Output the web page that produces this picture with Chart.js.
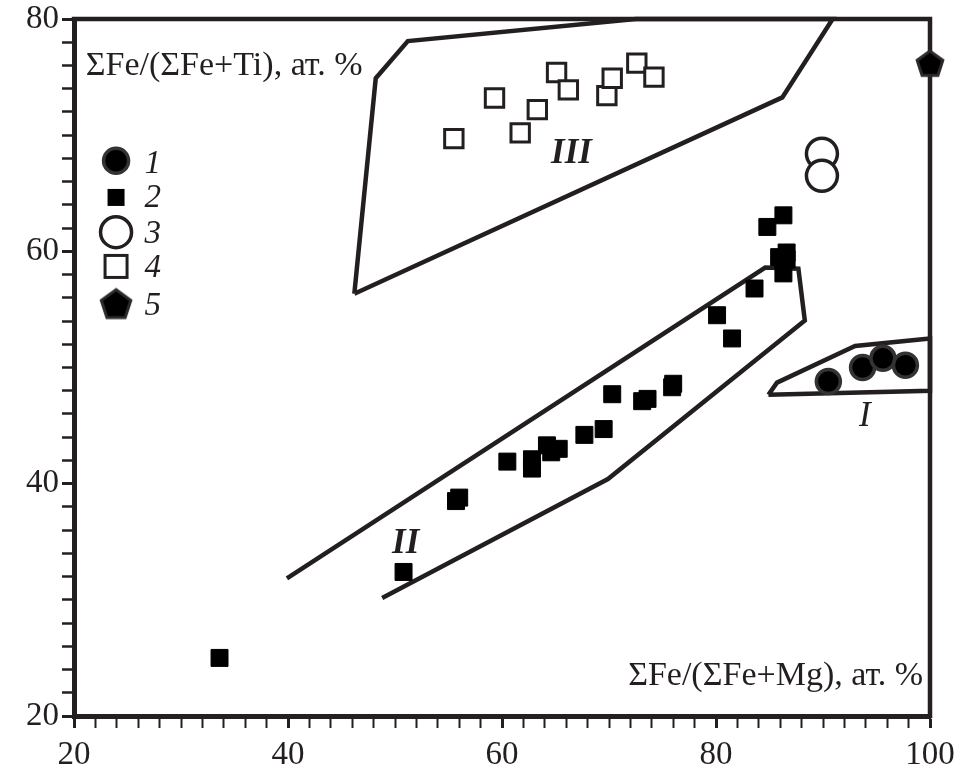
<!DOCTYPE html>
<html>
<head>
<meta charset="utf-8">
<script src="https://cdn.jsdelivr.net/npm/chart.js@4.4.1/dist/chart.umd.min.js"></script>
<style>
html,body{margin:0;padding:0;background:#fff;}
#wrap{width:967px;height:771px;position:relative;}
</style>
</head>
<body>
<div id="wrap"><canvas id="c" width="967" height="771"></canvas></div>
<script>
// ---------- data ----------
const xMajorTicks = [20, 40, 60, 80, 100];
const yMajorTicks = [20, 40, 60, 80];
const xTitle = 'ΣFe/(ΣFe+Mg), ат. %';
const yTitle = 'ΣFe/(ΣFe+Ti), ат. %';
const legendLabels = ['1', '2', '3', '4', '5'];
const regionNames = ['I', 'II', 'III'];

// series 1: filled circles
const s1X = [90.5, 93.7, 95.6, 97.7];
const s1Y = [48.8, 50.0, 50.8, 50.2];
// series 2: filled squares
const s2X = [33.6, 50.8, 55.7, 56.0, 60.5, 62.8, 62.8, 64.2, 64.6, 65.3, 67.7, 69.5, 70.3, 73.1, 73.6, 76.0, 75.9, 80.1, 81.5, 83.6, 86.3, 84.8, 86.3, 86.6, 86.6, 85.9];
const s2Y = [25.0, 32.4, 38.5, 38.8, 41.9, 42.1, 41.3, 43.3, 42.7, 43.0, 44.2, 44.7, 47.7, 47.1, 47.3, 48.6, 48.3, 54.5, 52.5, 56.8, 58.1, 62.1, 63.1, 59.9, 59.3, 59.5];
// series 3: open circles
const s3X = [89.9, 89.9];
const s3Y = [68.4, 66.5];
// series 4: open squares
const s4X = [55.5, 59.3, 61.7, 63.3, 65.1, 66.2, 69.8, 70.3, 72.6, 74.2];
const s4Y = [69.7, 73.2, 70.2, 72.2, 75.4, 73.9, 73.4, 74.9, 76.2, 75.0];
// series 5: pentagon
const s5X = [100];
const s5Y = [76.2];

// field outlines
const regIX = [84.9, 85.7, 93.0, 100, 100, 84.9];
const regIY = [47.65, 48.7, 51.85, 52.5, 48.0, 47.65];
const regIIX = [39.9, 84.6, 87.7, 88.3, 69.9, 48.8];
const regIIY = [31.85, 58.6, 58.5, 54.05, 40.4, 30.15];
const regIIIX = [46.2, 48.2, 51.2, 72.5, 90.9, 86.2, 46.2];
const regIIIY = [56.35, 74.9, 78.1, 80, 80, 73.25, 56.35];

// ---------- helpers ----------
const INK = '#231f20';
const FONT = '"Liberation Serif", "Times New Roman", serif';
const pts = (xs, ys) => xs.map((x, i) => ({x: x, y: ys[i]}));

function makePentagon(R, lw) {
  const size = Math.ceil(2 * R + lw + 4);
  const c = document.createElement('canvas');
  c.width = size; c.height = size;
  const g = c.getContext('2d');
  g.translate(size / 2, size / 2 + R * 0.1);
  g.beginPath();
  for (let i = 0; i < 5; i++) {
    const a = -Math.PI / 2 + i * 2 * Math.PI / 5;
    g.lineTo(R * Math.cos(a), R * Math.sin(a));
  }
  g.closePath();
  g.fillStyle = '#000';
  g.fill();
  g.lineWidth = lw;
  g.lineJoin = 'miter';
  g.strokeStyle = '#2e2a2b';
  g.stroke();
  return c;
}
const pentSmall = makePentagon(13.5, 3);
const pentLegend = makePentagon(15.5, 3);

const regionStyle = {
  showLine: true, pointRadius: 0, pointHoverRadius: 0, borderColor: INK, borderWidth: 4.5,
  backgroundColor: 'transparent', fill: false, tension: 0, borderJoinStyle: 'miter', clip: false, order: 10
};

// ---------- decorations plugin ----------
const deco = {
  id: 'deco',
  beforeDatasetsDraw(chart) {
    const {ctx, chartArea: a} = chart;
    ctx.save();
    ctx.strokeStyle = INK;
    ctx.lineWidth = 4.5;
    ctx.lineCap = 'square';
    ctx.beginPath();
    ctx.moveTo(a.left, a.top);
    ctx.lineTo(a.right, a.top);
    ctx.lineTo(a.right, a.bottom);
    ctx.stroke();
    ctx.restore();
  },
  afterDraw(chart) {
    const {ctx} = chart;
    const X = v => chart.scales.x.getPixelForValue(v);
    const Y = v => chart.scales.y.getPixelForValue(v);
    ctx.save();
    ctx.fillStyle = INK;
    ctx.textBaseline = 'alphabetic';
    // axis titles
    ctx.font = '34px ' + FONT;
    ctx.textAlign = 'left';
    ctx.fillText(yTitle, X(21.1), Y(75.15));
    ctx.textAlign = 'right';
    ctx.fillText(xTitle, X(99.35), Y(22.65));
    // region names
    ctx.textAlign = 'center';
    ctx.font = 'italic bold 35px ' + FONT;
    ctx.fillText(regionNames[2], X(66.5), Y(67.6));
    ctx.fillText(regionNames[1], X(51.0), Y(34.0));
    ctx.font = 'italic 35px ' + FONT;
    ctx.fillText(regionNames[0], X(93.9), Y(45.0));
    // legend
    const mx = X(23.93);
    const lx = X(26.6);
    const my = [67.8, 64.64, 61.65, 58.7, 55.5].map(Y);
    const ly = [66.77, 63.78, 60.71, 57.81, 54.48].map(Y);
    // 1 filled circle
    ctx.beginPath(); ctx.arc(mx, my[0], 12.5, 0, Math.PI * 2);
    ctx.fillStyle = '#000'; ctx.fill(); ctx.lineWidth = 3.5; ctx.strokeStyle = '#333'; ctx.stroke();
    // 2 filled square
    ctx.fillStyle = '#000'; ctx.fillRect(mx - 8.5, my[1] - 8.5, 17, 17);
    // 3 open circle
    ctx.beginPath(); ctx.arc(mx, my[2], 15.5, 0, Math.PI * 2);
    ctx.fillStyle = '#fff'; ctx.fill(); ctx.lineWidth = 3.5; ctx.strokeStyle = INK; ctx.stroke();
    // 4 open square
    ctx.lineWidth = 3; ctx.strokeStyle = INK; ctx.strokeRect(mx - 11, my[3] - 11, 22, 22);
    // 5 pentagon
    ctx.drawImage(pentLegend, mx - pentLegend.width / 2, my[4] - pentLegend.height / 2);
    // labels
    ctx.fillStyle = INK;
    ctx.textAlign = 'left';
    ctx.font = 'italic 33px ' + FONT;
    legendLabels.forEach((t, i) => ctx.fillText(t, lx, ly[i]));
    ctx.restore();
  }
};

const tickCb = majors => v => majors.includes(Math.round(v)) ? String(Math.round(v)) : '';

new Chart(document.getElementById('c'), {
  type: 'scatter',
  data: {
    datasets: [
      {label: legendLabels[0], data: pts(s1X, s1Y), pointStyle: 'circle', pointRadius: 12, backgroundColor: '#000', borderColor: '#333', borderWidth: 3.5, clip: false, order: 1},
      {label: legendLabels[4], data: pts(s5X, s5Y), pointStyle: pentSmall, pointRadius: 14, clip: false, order: 1},
      {label: legendLabels[2], data: pts(s3X, s3Y), pointStyle: 'circle', pointRadius: 15.5, backgroundColor: '#fff', borderColor: INK, borderWidth: 3.5, clip: false, order: 2},
      {label: legendLabels[1], data: pts(s2X, s2Y), pointStyle: 'rect', pointRadius: 12, backgroundColor: '#000', borderColor: '#000', borderWidth: 1, clip: false, order: 3},
      {label: legendLabels[3], data: pts(s4X, s4Y), pointStyle: 'rect', pointRadius: 13, backgroundColor: '#fff', borderColor: INK, borderWidth: 3, clip: false, order: 4},
      Object.assign({label: regionNames[0], data: pts(regIX, regIY)}, regionStyle),
      Object.assign({label: regionNames[1], data: pts(regIIX, regIIY)}, regionStyle),
      Object.assign({label: regionNames[2], data: pts(regIIIX, regIIIY)}, regionStyle)
    ]
  },
  options: {
    responsive: false,
    devicePixelRatio: 1,
    animation: false,
    events: [],
    layout: {padding: {top: 13, right: 37, bottom: 0, left: 0}},
    plugins: {legend: {display: false}, tooltip: {enabled: false}},
    scales: {
      x: {
        type: 'linear', min: 20, max: 100,
        ticks: {stepSize: 2, autoSkip: false, maxRotation: 0, minRotation: 0, callback: tickCb(xMajorTicks),
          font: {family: FONT, size: 33}, color: INK, padding: 8},
        grid: {drawOnChartArea: false, drawTicks: true, tickLength: 12, color: INK,
          tickWidth: c => (c.tick && xMajorTicks.includes(Math.round(c.tick.value))) ? 3 : 2},
        border: {display: true, width: 5, color: INK},
        afterFit: s => { s.height = 55; s.paddingLeft = 0; s.paddingRight = 0; }
      },
      y: {
        type: 'linear', min: 20, max: 80,
        ticks: {stepSize: 2, autoSkip: false, callback: tickCb(yMajorTicks),
          font: {family: FONT, size: 33}, color: INK, padding: 3},
        grid: {drawOnChartArea: false, drawTicks: true, tickLength: 12, color: INK,
          tickWidth: c => (c.tick && yMajorTicks.includes(Math.round(c.tick.value))) ? 3 : 2.5},
        border: {display: true, width: 5, color: INK},
        afterFit: s => { s.width = 74; s.paddingTop = 0; s.paddingBottom = 0; }
      }
    }
  },
  plugins: [deco]
});
</script>
</body>
</html>
